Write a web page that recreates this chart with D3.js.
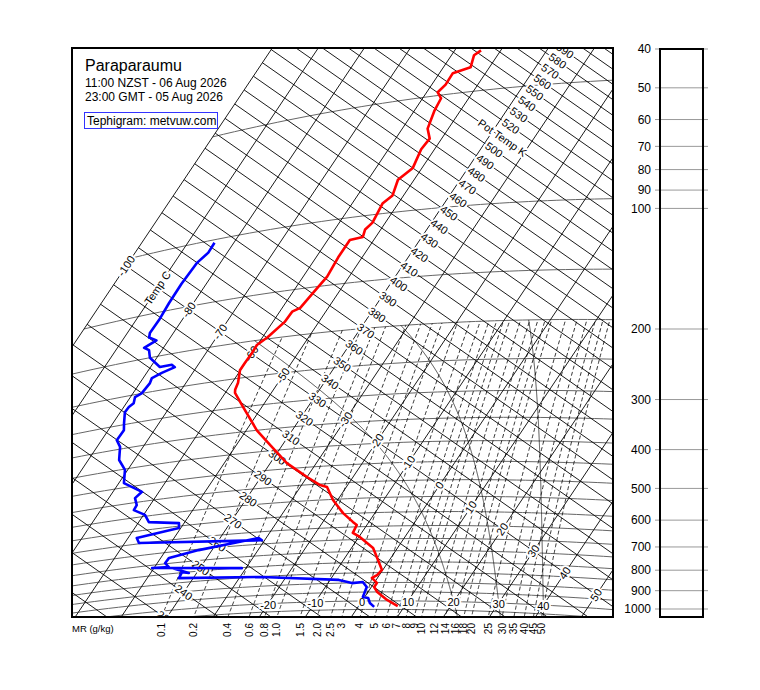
<!DOCTYPE html>
<html><head><meta charset="utf-8">
<script src="https://cdn.jsdelivr.net/npm/d3@7"></script>
<style>body{margin:0;background:#fff}svg{font-family:"Liberation Sans",Arial,sans-serif}</style>
</head><body><svg id="c" width="760" height="690"></svg>
<script>
// ---- data ----
const tempP = [1030,995,950,923,902,876,862,837,790,737,690,673,643,631,598,552,510,503,477,435,386,350,300,273,268,257,238,228,216,206,198,182,172,169,156,142,127,115,114,109,105,94,90,82,77,69,65,61,55,51,49,47,44,43,40,39];
const tempC = [8.5,5.3,2.0,0.6,0.6,-1.2,-0.5,-0.2,-2.5,-5.3,-9.8,-11.9,-12.2,-13.5,-16.9,-21.0,-24.2,-26.0,-30.0,-36.4,-42.7,-47.7,-54.1,-57.9,-58.3,-58.7,-60.1,-60.1,-60.0,-60.1,-58.9,-57.4,-57.3,-56.1,-55.5,-54.8,-55.2,-55.2,-52.8,-53.4,-52.8,-53.4,-52.4,-53.5,-52.0,-52.9,-52.6,-54.5,-55.6,-56.0,-57.6,-57.0,-57.1,-54.1,-55.1,-54.3];
const dewP = [1035,1012,983,977,923,896,901,883,852,826,798,805,773,802,763,767,747,725,704,674,684,647,626,607,589,572,545,524,509,486,470,437,402,375,345,329,311,297,277,269,264,254,250,236,229,224,219,215,215,208,200,190,186,180,175,170,158,143,128,114,108,102];
const dewC = [3.5,2.0,0.9,-0.4,-1.0,-2.6,-4.8,-8.1,-25.2,-43.1,-43.3,-41.7,-46.1,-30.9,-50.4,-46.9,-48.3,-48.2,-42.9,-31.6,-30.6,-56.9,-58.1,-50.4,-51.1,-57.8,-59.7,-62.8,-62.9,-64.3,-63.7,-68.9,-70.6,-73.3,-75.0,-76.7,-76.6,-77.6,-79.0,-78.9,-78.4,-79.0,-78.1,-77.8,-78.1,-76.7,-74.7,-75.7,-78.0,-79.6,-81.5,-82.8,-84.2,-82.6,-84.6,-85.1,-85.0,-85.3,-85.4,-85.1,-84.1,-84.2];
const isotherms = d3.range(-100, 51, 10);
const adiabats = d3.range(200, 651, 10);
const isobars = [1050,1000,950,900,850,800,750,700,650,600,550,500,450,400,350,300,250,200,150,100,50];
const mixRatios = [0.1,0.2,0.4,0.6,0.8,1.0,1.5,2.0,2.5,3,4,5,6,7,8,9,10,12,14,16,18,20,25,30,35,40,45,50];
const mixLabels = ["0.1","0.2","0.4","0.6","0.8","1.0","1.5","2.0","2.5","3","4","5","6","7","8","9","10","12","14","16","18","20","25","30","35","40","45","50"];
const satAdiabats = [20,30,40];
const thetaLabels = d3.range(230, 601, 10);
const tempLabels = [-100,-90,-80,-70,-60,-50,-30,-20,-10,0,10,20,30,40,50];
const isobarTempLabels = [-20,-10,0,10,20,30,40];
const windTicks = [40,50,60,70,80,90,100,200,300,400,500,600,700,800,900,1000];

// ---- geometry ----
const svg = d3.select("#c");
const L0 = 72, R0 = 613, T0 = 48, B0 = 617;
const X0 = 362, Y0 = 601;
const uX = d3.scaleLinear().domain([0,100]).range([0,313.3]);
const uY = d3.scaleLinear().domain([0,100]).range([0,219.3]);
const vX = d3.scaleLinear().domain([0,1]).range([0,410]);
const vY = d3.scaleLinear().domain([0,1]).range([0,-612]);
const K = 0.2857;
function xy(T, th){ const L = Math.log(th/273.15); return [X0+uX(T)+vX(L), Y0+uY(T)+vY(L)]; }
function xyp(p, T){ return xy(T, (T+273.15)*Math.pow(1000/p, K)); }
const line = d3.line();

svg.append("defs").append("clipPath").attr("id","pc").append("rect")
  .attr("x",L0).attr("y",T0).attr("width",R0-L0).attr("height",B0-T0);
const g = svg.append("g").attr("clip-path","url(#pc)");

// isobars
isobars.forEach(p=>{
  const pts = d3.range(-100, 70.1, 2).map(T=>xyp(p,T));
  g.append("path").attr("d",line(pts)).attr("fill","none").attr("stroke","#666").attr("stroke-width",1);
});
// isotherms
isotherms.forEach(T=>{
  g.append("path").attr("d",line([xy(T,120),xy(T,800)])).attr("fill","none").attr("stroke","#000").attr("stroke-width",0.9);
});
// dry adiabats
adiabats.forEach(th=>{
  g.append("path").attr("d",line([xy(-100,th),xy(70,th)])).attr("fill","none").attr("stroke","#000").attr("stroke-width",0.9);
});
// mixing ratio lines
function tFromW(w,p){ const e=w*p/(622+w); const a=Math.log(e/6.112); return 243.5*a/(17.67-a); }
const mrX = [];
mixRatios.forEach(w=>{
  const ps = d3.range(1150, 199.9, -5);
  const pts = ps.map(p=>xyp(p,tFromW(w,p)));
  g.append("path").attr("d",line(pts)).attr("fill","none").attr("stroke","#000")
    .attr("stroke-width",0.8).attr("stroke-dasharray","4,2.5");
  let cx = pts[0][0];
  for(let i=1;i<pts.length;i++){ if(pts[i-1][1]>=B0 && pts[i][1]<B0){ const f=(pts[i-1][1]-B0)/(pts[i-1][1]-pts[i][1]); cx=pts[i-1][0]+f*(pts[i][0]-pts[i-1][0]); break; } }
  mrX.push(cx);
});
// saturated adiabats
function es(T){ return 6.112*Math.exp(17.67*T/(T+243.5)); }
function dTdp(p,Tk){ const e=es(Tk-273.15); const rs=0.622*e/(p-e); const Rd=287, cp=1005, Lv=2.5e6;
  return (Rd*Tk+Lv*rs)/(p*(cp+Lv*Lv*rs*0.622/(Rd*Tk*Tk))); }
satAdiabats.forEach(tw=>{
  const up=[]; let T=tw+273.15;
  for(let p=1000;p>=200;p-=1){ up.push(xyp(p,T-273.15)); T -= dTdp(p,T)*1; }
  const dn=[]; T=tw+273.15;
  for(let p=1000;p<=1150;p+=1){ dn.push(xyp(p,T-273.15)); T += dTdp(p,T)*1; }
  g.append("path").attr("d",line(dn.reverse().concat(up))).attr("fill","none").attr("stroke","#000").attr("stroke-width",0.7);
});

// labels
function lab(x,y,txt,rot,anchor){
  return g.append("text").attr("transform",`translate(${x},${y}) rotate(${rot})`)
    .attr("text-anchor",anchor||"middle").attr("dy","0.35em").attr("font-size",11).attr("fill","#000")
    .attr("stroke","#fff").attr("stroke-width",4).attr("paint-order","stroke").text(txt);
}
const rotTh = Math.atan2(219.3,313.3)*180/Math.PI;
const rotT = Math.atan2(-612,410)*180/Math.PI;
thetaLabels.forEach(th=>{
  const Tl = -40 + 4*(th-240)/350;
  const [x,y] = xy(Tl, th);
  lab(x,y, th===510 ? "Pot Temp K" : String(th), rotTh);
});
tempLabels.forEach(T=>{
  const [x,y] = xy(T,330);
  lab(x,y, T===-90 ? "Temp C" : String(T).replace("-","-"), rotT);
});
isobarTempLabels.forEach(T=>{
  const [x,y] = xyp(1000,T);
  lab(x,y+1,String(T),0);
});

// soundings
svg.append("path").attr("clip-path","url(#pc)").attr("d",line(tempP.map((p,i)=>xyp(p,tempC[i]))))
  .attr("fill","none").attr("stroke","#ff0000").attr("stroke-width",2.6).attr("stroke-linejoin","round");
svg.append("path").attr("clip-path","url(#pc)").attr("d",line(dewP.map((p,i)=>xyp(p,dewC[i]))))
  .attr("fill","none").attr("stroke","#0000ff").attr("stroke-width",2.6).attr("stroke-linejoin","round");

// frame
svg.append("rect").attr("x",L0).attr("y",T0).attr("width",R0-L0).attr("height",B0-T0)
  .attr("fill","none").attr("stroke","#000").attr("stroke-width",2);

// MR labels
svg.append("text").attr("x",72).attr("y",632).attr("font-size",9.5).text("MR (g/kg)");
mixLabels.forEach((t,i)=>{
  svg.append("text").attr("transform",`translate(${mrX[i]},623) rotate(-90)`).attr("text-anchor","end")
    .attr("dy","0.35em").attr("font-size",10).text(t);
});

// title
svg.append("text").attr("x",85).attr("y",71).attr("font-size",16).text("Paraparaumu");
svg.append("text").attr("x",85).attr("y",87).attr("font-size",12).text("11:00 NZST - 06 Aug 2026");
svg.append("text").attr("x",85).attr("y",101).attr("font-size",12).text("23:00 GMT - 05 Aug 2026");
svg.append("rect").attr("x",84.5).attr("y",112.5).attr("width",133).attr("height",16).attr("fill","#fff").attr("stroke","#3333ff").attr("stroke-width",1);
svg.append("text").attr("x",87).attr("y",125).attr("font-size",12).text("Tephigram: metvuw.com");

// wind panel
const pY = d3.scaleLog().domain([40,1047]).range([49,617]);
windTicks.forEach(p=>{
  svg.append("line").attr("x1",655).attr("x2",708).attr("y1",pY(p)).attr("y2",pY(p)).attr("stroke","#999").attr("stroke-width",1);
  svg.append("text").attr("x",651).attr("y",pY(p)).attr("dy","0.35em").attr("text-anchor","end").attr("font-size",12).text(p);
});
svg.append("rect").attr("x",660).attr("y",49).attr("width",43).attr("height",568).attr("fill","none").attr("stroke","#000").attr("stroke-width",2);
</script></body></html>
